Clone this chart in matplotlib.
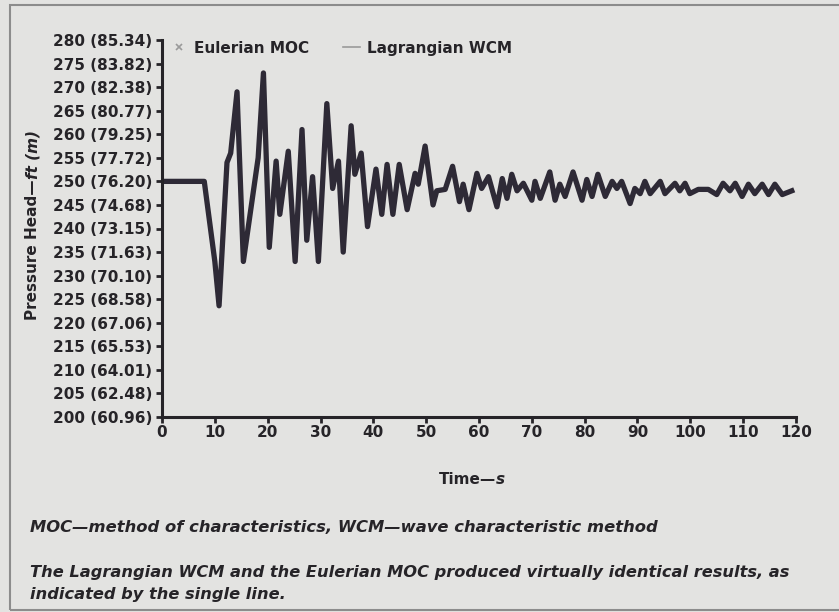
import matplotlib
matplotlib.use("Agg")
import matplotlib.pyplot as plt
from matplotlib.lines import Line2D
from matplotlib.patches import Rectangle

plt.rcParams['font.family'] = ['DejaVu Sans']
plt.rcParams['font.weight'] = 'bold'

# time (s) and pressure head (ft); both methods gave the same curve
time_s = [0, 8, 10, 10.8, 12.3, 13, 14.2, 15.4, 18.2, 19.2, 20.3, 21.6, 22.3, 23.9,
          25.2, 26.5, 27.4, 28.5, 29.6, 31.2, 32.3, 33.4, 34.3, 35.8, 36.5, 37.7,
          38.9, 40.5, 41.6, 42.6, 43.7, 44.9, 46.4, 47.9, 48.5, 49.8, 51.3, 52,
          53.6, 55, 56.3, 57, 58.1, 59.6, 60.5, 61.8, 63.4, 64.4, 65.3, 66.2, 67.2,
          68.4, 70, 70.6, 71.6, 73.4, 74.4, 75.3, 76.3, 77.8, 79.5, 80.4, 81.4,
          82.5, 83.9, 85.2, 86.1, 87, 88.6, 89.5, 90.5, 91.4, 92.4, 94.3, 95.2,
          97.1, 98, 99, 99.9, 101.5, 103.4, 105, 106.2, 107.5, 108.5, 109.8, 111,
          112.2, 113.6, 114.8, 116, 117.4, 119.2]
head_ft = [250, 250, 233, 223.6, 254, 256, 269, 233, 255, 273, 236, 254.3, 243, 256.4,
           233, 261, 237.5, 251, 233, 266.5, 248.5, 254.3, 235, 261.8, 251.5, 256,
           240.4, 252.6, 243, 253.6, 243, 253.6, 244, 251.7, 249.4, 257.5, 245, 248,
           248.3, 253.2, 245.7, 249.4, 244, 251.7, 248.5, 251, 244.6, 250.6, 246.4,
           251.5, 248, 249.6, 246, 250, 246.4, 252, 246, 249.4, 246.8, 252, 246,
           250.4, 246.8, 251.5, 246.8, 250, 248.5, 250, 245.3, 248.5, 247.4, 250,
           247.4, 250, 247.4, 249.6, 248, 249.6, 247.4, 248.3, 248.3, 247.2, 249.6,
           248, 249.6, 246.8, 249.4, 247.4, 249.4, 247.2, 249.4, 247.2, 248]

yticks = list(range(200, 281, 5))
ytick_labels = ['200 (60.96)', '205 (62.48)', '210 (64.01)', '215 (65.53)',
                '220 (67.06)', '225 (68.58)', '230 (70.10)', '235 (71.63)',
                '240 (73.15)', '245 (74.68)', '250 (76.20)', '255 (77.72)',
                '260 (79.25)', '265 (80.77)', '270 (82.38)', '275 (83.82)',
                '280 (85.34)']
xticks = list(range(0, 121, 10))

bg = '#e3e3e1'
ink = '#262428'
W, H = 839, 612

fig = plt.figure(figsize=(W / 100, H / 100), dpi=100, facecolor=bg)
ax = fig.add_axes([162 / W, 1 - 417 / H, (796 - 162) / W, (417 - 40) / H])
ax.set_facecolor(bg)

ax.plot(time_s, head_ft, color='#2e2a36', lw=3.8, solid_joinstyle='round')

ax.set_xlim(0, 120)
ax.set_ylim(200, 280)
ax.set_xticks(xticks)
ax.set_yticks(yticks)
ax.set_yticklabels(ytick_labels)
for s in ['top', 'right']:
    ax.spines[s].set_visible(False)
for s in ['left', 'bottom']:
    ax.spines[s].set_linewidth(2.2)
    ax.spines[s].set_color(ink)
ax.tick_params(axis='both', direction='out', length=4, width=2, color=ink,
               labelsize=11, labelcolor=ink)
ax.tick_params(axis='y', pad=3)
ax.tick_params(axis='x', pad=1.5)

handles = [Line2D([], [], ls='none', marker='x', ms=4, mew=1.2, color='#9a9a9a'),
           Line2D([], [], color='#9a9a9a', lw=1.2)]
ax.legend(handles, ['Eulerian MOC', 'Lagrangian WCM'], loc='upper left',
          bbox_to_anchor=(-0.008, 1.035), ncol=2, frameon=False, fontsize=11,
          handlelength=1.1, handletextpad=0.45, columnspacing=2.2,
          labelcolor=ink)

# y label: upright part + italic unit part
fig.canvas.draw()
r = fig.canvas.get_renderer()
t1 = fig.text(33 / W, 1 - 320 / H, 'Pressure Head\u2014', rotation=90,
              ha='center', va='bottom', fontsize=11, color=ink)
bb = t1.get_window_extent(r)
fig.text(33 / W, bb.y1 / H, 'ft (m)', rotation=90, ha='center', va='bottom',
         fontsize=11, color=ink, style='italic')

# x label
t2 = fig.text(439 / W, 1 - 480 / H, 'Time\u2014', ha='left', va='center',
              fontsize=11, color=ink)
bb = t2.get_window_extent(r)
fig.text(bb.x1 / W, 1 - 480 / H, 's', ha='left', va='center', fontsize=11,
         color=ink, style='italic')

fig.text(30 / W, 1 - 527 / H,
         'MOC\u2014method of characteristics, WCM\u2014wave characteristic method',
         ha='left', va='center', fontsize=11.8, style='italic', color=ink)
fig.text(30 / W, 1 - 572 / H,
         'The Lagrangian WCM and the Eulerian MOC produced virtually identical results, as',
         ha='left', va='center', fontsize=11.7, style='italic', color=ink)
fig.text(30 / W, 1 - 595 / H, 'indicated by the single line.',
         ha='left', va='center', fontsize=11.7, style='italic', color=ink)

# frame of the scanned figure box
fig.patches.append(Rectangle((10 / W, 2 / H), 1.2, 1 - 7 / H, transform=fig.transFigure,
                             fill=False, lw=1.5, ec='#8c8c8c', figure=fig))

fig.savefig('out.png', dpi=100, facecolor=bg)
